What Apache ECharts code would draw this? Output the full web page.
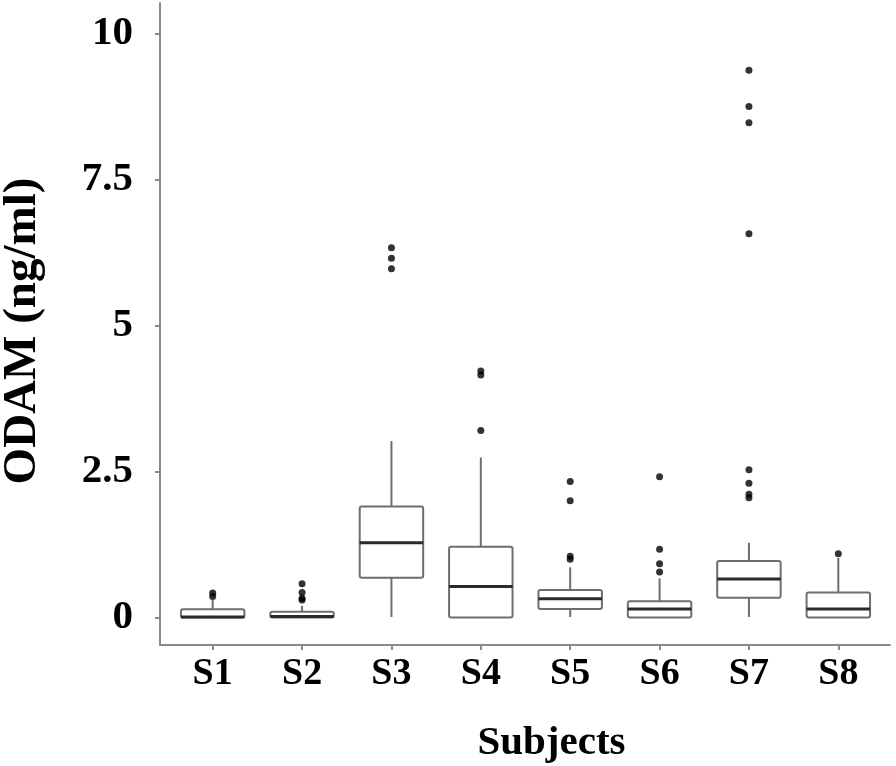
<!DOCTYPE html>
<html>
<head>
<meta charset="utf-8">
<script src="https://cdn.jsdelivr.net/npm/echarts@6/dist/echarts.min.js"></script>
<style>
  html, body { margin: 0; padding: 0; background: #fff; }
  #chart { width: 896px; height: 766px; }
</style>
</head>
<body>
<div id="chart"></div>
<script>
// box statistics (ng/ml)
var subjects = ['S1', 'S2', 'S3', 'S4', 'S5', 'S6', 'S7', 'S8'];
var lowWhisker = [0, 0, 0.01, 0, 0.01, 0, 0.01, 0];
var q1 = [0, 0, 0.68, 0, 0.145, 0, 0.34, 0];
var median = [0.01, 0.02, 1.28, 0.53, 0.32, 0.145, 0.66, 0.145];
var q3 = [0.14, 0.10, 1.90, 1.21, 0.47, 0.28, 0.97, 0.43];
var highWhisker = [0.30, 0.20, 3.02, 2.74, 0.86, 0.67, 1.28, 1.02];
// [subject index, value]
var outliers = [
    [0, 0.36], [0, 0.42],
    [1, 0.30], [1, 0.33], [1, 0.43], [1, 0.58],
    [2, 5.97], [2, 6.15], [2, 6.33],
    [3, 3.20], [3, 4.15], [3, 4.22],
    [4, 1.00], [4, 1.05], [4, 2.00], [4, 2.33],
    [5, 0.78], [5, 0.92], [5, 1.17], [5, 2.41],
    [6, 2.05], [6, 2.11], [6, 2.30], [6, 2.53], [6, 6.57], [6, 8.47], [6, 8.75], [6, 9.37],
    [7, 1.09]
];
var yTicks = [0, 2.5, 5, 7.5, 10];

var boxData = subjects.map(function (s, i) {
    return [i, lowWhisker[i], q1[i], median[i], q3[i], highWhisker[i]];
});

var font = 'Liberation Serif';
var axisGray = '#8a8a8a';
var yMin = -0.47, yMax = 10.52;

function renderBox(params, api) {
    var x = api.value(0);
    var lo = api.coord([x, api.value(1)]);
    var b1 = api.coord([x, api.value(2)]);
    var md = api.coord([x, api.value(3)]);
    var b3 = api.coord([x, api.value(4)]);
    var hi = api.coord([x, api.value(5)]);
    var w = api.size([1, 0])[0] * 0.71;
    var cx = lo[0];
    var edge = { stroke: '#6e6e6e', lineWidth: 2 };
    return {
        type: 'group',
        children: [
            { type: 'line', shape: { x1: cx, y1: lo[1], x2: cx, y2: b1[1] }, style: edge },
            { type: 'line', shape: { x1: cx, y1: b3[1], x2: cx, y2: hi[1] }, style: edge },
            { type: 'rect', shape: { x: cx - w / 2, y: b3[1], width: w, height: b1[1] - b3[1], r: 2 },
              style: { stroke: '#6e6e6e', lineWidth: 2, fill: '#fff' } },
            { type: 'line', shape: { x1: cx - w / 2, y1: md[1], x2: cx + w / 2, y2: md[1] },
              style: { stroke: '#2b2b2b', lineWidth: 3 } }
        ]
    };
}

var chart = echarts.init(document.getElementById('chart'));
chart.setOption({
    animation: false,
    backgroundColor: '#fff',
    grid: [
        { left: 168, right: 13, top: 3, bottom: 121, outerBoundsMode: 'none' },
        { left: 160, right: 6, top: 3, bottom: 121, outerBoundsMode: 'none' }
    ],
    xAxis: [{
        type: 'category',
        gridIndex: 0,
        data: subjects,
        axisLine: { show: false, onZero: false },
        axisTick: { show: true, alignWithLabel: true, length: 5, lineStyle: { color: axisGray, width: 2 } },
        axisLabel: { color: '#000', fontFamily: font, fontWeight: 'bold', fontSize: 38, margin: 10 },
        name: 'Subjects',
        nameLocation: 'middle',
        nameGap: 78,
        nameTextStyle: { color: '#000', fontFamily: font, fontWeight: 'bold', fontSize: 41, padding: [0, 0, 0, 52] }
    }, {
        type: 'value',
        gridIndex: 1,
        min: 0,
        max: 1,
        axisLine: { show: true, onZero: false, lineStyle: { color: axisGray, width: 2 } },
        axisTick: { show: false },
        axisLabel: { show: false },
        splitLine: { show: false }
    }],
    yAxis: [{
        type: 'value',
        gridIndex: 0,
        min: yMin,
        max: yMax,
        show: false
    }, {
        type: 'value',
        gridIndex: 1,
        min: yMin,
        max: yMax,
        axisLine: { show: true, onZero: false, lineStyle: { color: axisGray, width: 2 } },
        axisTick: { show: true, length: 5, customValues: yTicks, lineStyle: { color: axisGray, width: 2 } },
        axisLabel: { customValues: yTicks, color: '#000', fontFamily: font, fontWeight: 'bold', fontSize: 41, margin: 27 },
        splitLine: { show: false },
        name: 'ODAM (ng/ml)',
        nameLocation: 'middle',
        nameGap: 114,
        nameTextStyle: { color: '#000', fontFamily: font, fontWeight: 'bold', fontSize: 47, padding: [0, 14, 0, 0] }
    }],
    series: [{
        type: 'custom',
        xAxisIndex: 0,
        yAxisIndex: 0,
        renderItem: renderBox,
        data: boxData,
        z: 2
    }, {
        type: 'scatter',
        xAxisIndex: 0,
        yAxisIndex: 0,
        data: outliers,
        symbol: 'circle',
        symbolSize: 7,
        itemStyle: { color: '#000' },
        z: 3
    }]
});
</script>
</body>
</html>
